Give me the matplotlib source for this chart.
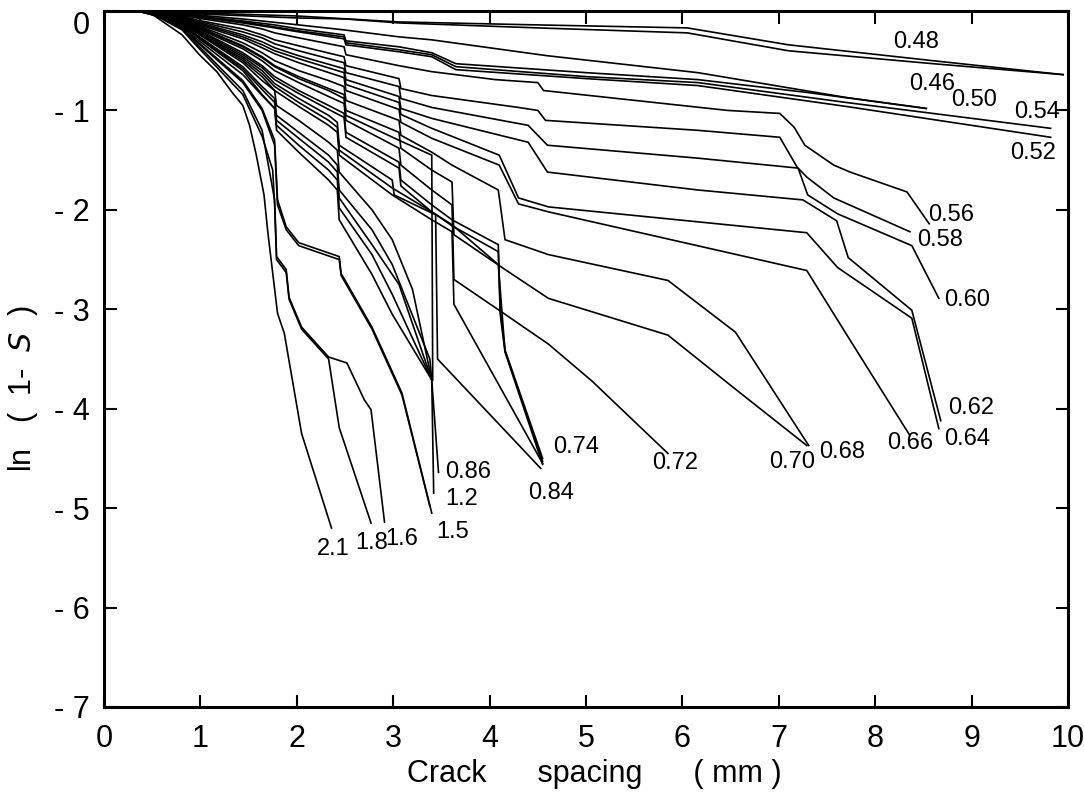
import matplotlib
matplotlib.use("Agg")
import matplotlib.pyplot as plt

plt.rcParams['font.family'] = ['DejaVu Sans Condensed', 'Liberation Sans Narrow', 'Liberation Sans', 'DejaVu Sans']

# ---- curve data (crack spacing mm, ln(1-S)) ----
# group A : shallow curves
x_a1 = [0.30, 1.0, 2.0, 3.06, 4.5, 6.05, 7.1, 8.6, 9.95]
y_a1 = [0, -0.02, -0.05, -0.11, -0.14, -0.17, -0.34, -0.50, -0.64]
x_a2 = [0.30, 1.0, 2.0, 2.5, 3.06, 4.5, 6.05, 7.1, 8.6, 9.95]
y_a2 = [0, -0.03, -0.07, -0.08, -0.12, -0.17, -0.22, -0.40, -0.53, -0.64]
x_a3 = [0.35, 0.96, 1.44, 2.02, 2.49, 3.06, 3.4, 4.6, 6.16, 7.7, 8.53]
y_a3 = [0, -0.04, -0.08, -0.14, -0.19, -0.26, -0.29, -0.45, -0.62, -0.87, -0.98]
x_a4 = [0.35, 0.96, 1.44, 1.77, 2.02, 2.49, 2.51, 3.06, 3.40, 3.65, 5.0, 6.16, 7.3, 8.53]
y_a4 = [0, -0.05, -0.10, -0.14, -0.18, -0.24, -0.30, -0.36, -0.42, -0.53, -0.62, -0.69, -0.82, -0.98]
x_a5 = [0.35, 0.96, 1.44, 1.77, 2.02, 2.49, 2.51, 3.06, 3.40, 3.65, 5.0, 6.16, 7.7, 9.82]
y_a5 = [0, -0.05, -0.11, -0.16, -0.20, -0.26, -0.32, -0.39, -0.44, -0.56, -0.66, -0.72, -0.92, -1.18]
x_a6 = [0.35, 0.96, 1.44, 1.77, 2.02, 2.49, 2.51, 3.06, 3.40, 3.65, 5.0, 6.16, 7.7, 9.82]
y_a6 = [0, -0.06, -0.12, -0.17, -0.21, -0.28, -0.34, -0.41, -0.46, -0.59, -0.68, -0.75, -0.96, -1.27]

# group B
x_b1 = [0.35, 0.81, 0.96, 1.44, 1.64, 1.77, 2.02, 2.49, 2.51, 3.06, 3.40, 4.06, 4.50, 4.56,
        6.47, 7.01, 7.16, 7.27, 7.57, 7.74, 8.33, 8.56]
y_b1 = [0, -0.04, -0.07, -0.14, -0.18, -0.22, -0.27, -0.36, -0.44, -0.55, -0.61, -0.69, -0.72, -0.80,
        -1.00, -1.03, -1.17, -1.35, -1.55, -1.62, -1.82, -2.14]
x_b2 = [0.35, 0.81, 0.96, 1.44, 1.64, 1.77, 2.02, 2.49, 2.51, 3.06, 3.08, 3.40, 4.3, 4.50, 4.58,
        6.16, 7.01, 7.19, 7.29, 7.57, 8.36]
y_b2 = [0, -0.05, -0.09, -0.18, -0.24, -0.29, -0.35, -0.46, -0.55, -0.68, -0.78, -0.85, -0.97, -1.00, -1.10,
        -1.20, -1.27, -1.57, -1.67, -1.88, -2.22]
x_b3 = [0.35, 0.81, 0.96, 1.44, 1.64, 1.77, 2.02, 2.49, 2.51, 3.06, 3.08, 3.40, 4.40, 4.60,
        6.16, 7.20, 7.30, 7.61, 8.38, 8.66]
y_b3 = [0, -0.06, -0.10, -0.21, -0.27, -0.33, -0.40, -0.52, -0.62, -0.76, -0.88, -0.97, -1.15, -1.35,
        -1.48, -1.58, -1.85, -2.04, -2.36, -2.89]

# group C
x_c1 = [0.35, 0.81, 0.96, 1.44, 1.64, 1.77, 2.02, 2.49, 2.51, 3.06, 3.08, 3.40, 4.40, 4.60,
        6.16, 7.25, 7.60, 7.72, 8.38, 8.68]
y_c1 = [0, -0.06, -0.11, -0.24, -0.31, -0.37, -0.45, -0.58, -0.69, -0.86, -0.98, -1.08, -1.32, -1.62,
        -1.80, -1.90, -2.11, -2.48, -3.01, -4.12]
x_c2 = [0.35, 0.81, 0.96, 1.44, 1.64, 1.77, 2.02, 2.49, 2.51, 3.06, 3.08, 3.40, 4.10, 4.30, 4.61,
        7.29, 7.61, 8.38, 8.66]
y_c2 = [0, -0.07, -0.12, -0.26, -0.34, -0.40, -0.48, -0.62, -0.74, -0.92, -1.04, -1.18, -1.45, -1.88, -1.97,
        -2.23, -2.58, -3.09, -4.20]
x_c3 = [0.35, 0.81, 0.96, 1.44, 1.64, 1.77, 2.02, 2.49, 2.51, 3.06, 3.08, 3.40, 4.10, 4.30, 4.61,
        7.29, 7.72, 8.36]
y_c3 = [0, -0.07, -0.13, -0.28, -0.37, -0.43, -0.52, -0.67, -0.80, -0.99, -1.12, -1.28, -1.55, -1.94, -2.02,
        -2.61, -3.28, -4.27]

# group D
x_d1 = [0.35, 0.81, 0.96, 1.44, 1.64, 1.77, 2.02, 2.33, 2.49, 2.51, 3.06, 3.08, 3.40, 3.61, 4.09, 4.16,
        4.61, 5.85, 6.55, 7.31]
y_d1 = [0, -0.08, -0.14, -0.32, -0.42, -0.50, -0.60, -0.70, -0.76, -0.90, -1.10, -1.25, -1.42, -1.55, -1.80, -2.30,
        -2.45, -2.71, -3.23, -4.37]
x_d2 = [0.35, 0.81, 0.96, 1.44, 1.64, 1.77, 2.02, 2.33, 2.49, 2.51, 3.06, 3.08, 3.40, 3.61, 3.63, 4.16,
        4.61, 5.85, 6.52, 7.29]
y_d2 = [0, -0.09, -0.15, -0.35, -0.46, -0.55, -0.66, -0.78, -0.84, -1.00, -1.22, -1.38, -1.60, -1.72, -2.25, -2.60,
        -2.89, -3.26, -3.78, -4.37]
x_d3 = [0.35, 0.81, 0.96, 1.44, 1.64, 1.77, 2.02, 2.33, 2.49, 2.51, 3.06, 3.08, 3.40, 3.61, 3.63, 4.16,
        4.61, 5.06, 5.85]
y_d3 = [0, -0.10, -0.17, -0.38, -0.50, -0.60, -0.72, -0.86, -0.93, -1.10, -1.38, -1.55, -1.80, -1.95, -2.70, -3.05,
        -3.35, -3.72, -4.45]

# group E
x_e1 = [0.35, 0.81, 0.96, 1.44, 1.64, 1.77, 2.02, 2.33, 2.49, 2.51, 3.06, 3.08, 3.40, 3.61, 4.09, 4.11, 4.16, 4.55]
y_e1 = [0, -0.10, -0.18, -0.42, -0.55, -0.66, -0.80, -0.95, -1.03, -1.22, -1.52, -1.70, -1.95, -2.10, -2.35, -3.00, -3.41, -4.50]
x_e1b = [0.35, 0.81, 0.96, 1.44, 1.64, 1.77, 2.02, 2.33, 2.49, 2.51, 3.06, 3.08, 3.40, 3.61, 4.09, 4.11, 4.16, 4.55]
y_e1b = [0, -0.11, -0.19, -0.44, -0.57, -0.69, -0.83, -0.99, -1.07, -1.27, -1.58, -1.76, -2.02, -2.16, -2.42, -3.05, -3.43, -4.56]
x_e2 = [0.35, 0.81, 0.96, 1.44, 1.64, 1.77, 2.02, 2.33, 2.42, 2.44, 2.99, 3.01, 3.44, 3.46, 4.53]
y_e2 = [0, -0.11, -0.20, -0.46, -0.60, -0.73, -0.88, -1.05, -1.12, -1.35, -1.70, -1.85, -2.05, -3.50, -4.60]
x_e3 = [0.35, 0.81, 0.96, 1.44, 1.64, 1.77, 2.02, 2.33, 2.42, 2.44, 2.99, 3.40, 3.61, 3.63, 4.55]
y_e3 = [0, -0.12, -0.21, -0.50, -0.66, -0.80, -0.96, -1.15, -1.22, -1.45, -1.85, -2.10, -2.22, -2.95, -4.55]
x_e4 = [0.40, 0.81, 0.96, 1.44, 1.64, 1.77, 2.02, 2.33, 2.42, 2.44, 2.99, 3.40, 3.61, 4.09, 4.16, 4.55]
y_e4 = [0, -0.115, -0.21, -0.48, -0.63, -0.76, -0.92, -1.10, -1.17, -1.40, -1.78, -2.02, -2.15, -2.55, -3.42, -4.53]

# group F
x_f3 = [0.40, 0.81, 0.96, 1.44, 1.64, 1.77, 1.79, 2.02, 2.33, 2.42, 2.44, 2.78, 2.99, 3.20, 3.40, 3.47]
y_f3 = [0, -0.12, -0.22, -0.52, -0.70, -0.80, -0.95, -1.10, -1.32, -1.40, -1.62, -2.00, -2.30, -2.80, -3.71, -4.64]
x_f4 = [0.40, 0.81, 0.96, 1.44, 1.64, 1.77, 1.79, 2.02, 2.33, 2.42, 2.44, 2.78, 2.99, 3.38, 3.40]
y_f4 = [0, -0.13, -0.24, -0.56, -0.76, -0.88, -1.05, -1.22, -1.45, -1.55, -1.80, -2.20, -2.55, -3.50, -3.71]
x_f7 = [0.40, 0.81, 0.96, 1.44, 1.64, 1.77, 1.79, 2.02, 2.33, 2.42, 2.44, 2.78, 3.06, 3.40]
y_f7 = [0, -0.14, -0.25, -0.58, -0.79, -0.92, -1.10, -1.28, -1.52, -1.62, -1.88, -2.35, -2.75, -3.71]
x_f2 = [0.40, 0.81, 0.96, 1.44, 1.54, 1.64, 1.77, 1.79, 2.02, 2.33, 2.42, 2.44, 2.78, 2.99, 3.40, 3.42]
y_f2 = [0, -0.14, -0.26, -0.60, -0.72, -0.84, -0.98, -1.15, -1.35, -1.60, -1.70, -1.98, -2.45, -2.85, -3.71, -4.85]
x_f5 = [0.40, 0.81, 0.96, 1.44, 1.64, 1.77, 2.02, 2.33, 2.49, 2.51, 3.06, 3.40, 3.41]
y_f5 = [0, -0.09, -0.16, -0.36, -0.47, -0.56, -0.68, -0.80, -0.88, -1.05, -1.30, -1.45, -3.71]
x_f6 = [0.40, 0.81, 0.96, 1.44, 1.64, 1.77, 1.79, 2.02, 2.33, 2.42, 2.44, 2.78, 2.99, 3.40]
y_f6 = [0, -0.15, -0.28, -0.64, -0.85, -0.98, -1.20, -1.42, -1.70, -1.80, -2.10, -2.65, -3.05, -3.71]
x_f1 = [0.45, 0.81, 0.96, 1.44, 1.64, 1.77, 1.80, 1.89, 2.02, 2.44, 2.46, 2.78, 3.09, 3.40]
y_f1 = [0, -0.16, -0.30, -0.70, -0.98, -1.30, -1.90, -2.17, -2.33, -2.47, -2.64, -3.18, -3.84, -5.05]
x_f1b = [0.45, 0.81, 0.96, 1.44, 1.64, 1.77, 1.80, 1.89, 2.02, 2.44, 2.46, 2.78, 3.09, 3.38]
y_f1b = [0, -0.17, -0.31, -0.72, -1.00, -1.35, -1.95, -2.20, -2.36, -2.50, -2.66, -3.20, -3.86, -4.98]

# group G
x_g3 = [0.45, 0.81, 0.96, 1.44, 1.64, 1.77, 1.79, 1.89, 1.92, 2.05, 2.33, 2.52, 2.70, 2.77, 2.91]
y_g3 = [0, -0.18, -0.33, -0.80, -1.20, -1.90, -2.47, -2.60, -2.88, -3.18, -3.48, -3.54, -3.91, -4.01, -5.14]
x_g2 = [0.45, 0.81, 0.96, 1.44, 1.64, 1.75, 1.77, 1.79, 1.89, 1.92, 2.05, 2.33, 2.44, 2.77]
y_g2 = [0, -0.19, -0.35, -0.84, -1.26, -1.60, -1.95, -2.50, -2.63, -2.90, -3.20, -3.50, -4.19, -5.15]
x_g1 = [0.45, 0.81, 0.99, 1.17, 1.33, 1.44, 1.51, 1.58, 1.66, 1.70, 1.80, 1.87, 2.05, 2.36]
y_g1 = [0, -0.24, -0.44, -0.61, -0.82, -0.95, -1.15, -1.45, -1.85, -2.23, -3.04, -3.24, -4.25, -5.20]

curves = [(x_a1, y_a1), (x_a2, y_a2), (x_a3, y_a3), (x_a4, y_a4), (x_a5, y_a5), (x_a6, y_a6),
          (x_b1, y_b1), (x_b2, y_b2), (x_b3, y_b3),
          (x_c1, y_c1), (x_c2, y_c2), (x_c3, y_c3),
          (x_d1, y_d1), (x_d2, y_d2), (x_d3, y_d3),
          (x_e1, y_e1), (x_e1b, y_e1b), (x_e2, y_e2), (x_e3, y_e3), (x_e4, y_e4),
          (x_f3, y_f3), (x_f4, y_f4), (x_f7, y_f7), (x_f2, y_f2), (x_f5, y_f5), (x_f6, y_f6),
          (x_f1, y_f1), (x_f1b, y_f1b),
          (x_g3, y_g3), (x_g2, y_g2), (x_g1, y_g1)]

# curve labels
label_text = ['0.48', '0.46', '0.50', '0.54', '0.52', '0.56', '0.58', '0.60', '0.62', '0.64', '0.66',
              '0.68', '0.70', '0.72', '0.74', '0.84', '0.86', '1.2', '1.5', '1.6', '1.8', '2.1']
label_x = [8.19, 8.35, 8.79, 9.44, 9.40, 8.55, 8.43, 8.71, 8.76, 8.71, 8.12,
           7.42, 6.90, 5.69, 4.66, 4.40, 3.54, 3.54, 3.45, 2.92, 2.61, 2.21]
label_y = [-0.31, -0.73, -0.90, -1.02, -1.43, -2.05, -2.30, -2.91, -3.99, -4.30, -4.34,
           -4.44, -4.54, -4.55, -4.39, -4.85, -4.64, -4.91, -5.24, -5.31, -5.35, -5.41]

x_ticks = [0, 1, 2, 3, 4, 5, 6, 7, 8, 9, 10]
y_ticks = [-7, -6, -5, -4, -3, -2, -1, 0]
y_tick_text = ['- 7', '- 6', '- 5', '- 4', '- 3', '- 2', '- 1', '0']

fig = plt.figure(figsize=(10.84, 7.94), dpi=100)
ax = fig.add_axes([104 / 1084, (794 - 707) / 794, (1068 - 104) / 1084, (707 - 11) / 794])

for xs, ys in curves:
    ax.plot(xs, ys, color='black', lw=1.2, solid_joinstyle='miter')

for t, lx, ly in zip(label_text, label_x, label_y):
    ax.text(lx, ly, t, fontsize=17, ha='left', va='center', color='black')

ax.set_xlim(0, 10)
ax.set_ylim(-7, 0.0)
ax.set_xticks(x_ticks)
ax.set_xticklabels([str(v) for v in x_ticks], fontsize=22)
ax.set_yticks(y_ticks)
ax.set_yticklabels(y_tick_text, fontsize=22)
ax.tick_params(axis='x', direction='in', length=9, width=1.5, top=True, pad=12)
ax.tick_params(axis='y', direction='in', length=9, width=1.5, right=True, pad=10)
ax.get_yticklabels()[-1].set_va('top')
for s in ax.spines.values():
    s.set_linewidth(2.2)

ax.set_xlabel('Crack      spacing      ( mm )', fontsize=22)
ax.xaxis.set_label_coords(0.509, -0.075)
ax.set_ylabel(r'ln   (  1-  $\it{S}$  )', fontsize=22)
ax.yaxis.set_label_coords(-0.066, 0.458)

fig.savefig('out.png', dpi=100)
